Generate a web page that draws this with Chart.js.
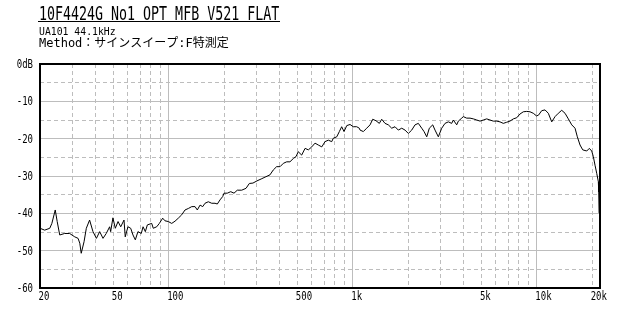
<!DOCTYPE html>
<html>
<head>
<meta charset="utf-8">
<title>10F4424G No1 OPT MFB V521 FLAT</title>
<script src="https://cdn.jsdelivr.net/npm/chart.js@4.4.1/dist/chart.umd.min.js"></script>
<style>
  html, body { margin: 0; padding: 0; background: #fff; }
  #wrap { width: 640px; height: 320px; position: relative; }
</style>
</head>
<body>
<div id="wrap"><canvas id="fr" width="640" height="320"></canvas></div>
<script>
/* ========================================
   F-characteristic plot (sine sweep)
   ======================================== */

// --- Header text ---
const titleText = '10F4424G No1 OPT MFB V521 FLAT';
const deviceText = 'UA101 44.1kHz';
const methodText = 'Method：サインスイープ:F特測定';

// --- Axes ---
const freqMin = 20;
const freqMax = 22050;
const dbMin = -60;
const dbMax = 0;
const freqGrid = [20, 30, 40, 50, 60, 70, 80, 90, 100, 200, 300, 400, 500, 600, 700, 800, 900,
  1000, 2000, 3000, 4000, 5000, 6000, 7000, 8000, 9000, 10000, 20000];
const freqMajor = [100, 1000, 10000];
const freqLabelValues = [20, 50, 100, 500, 1000, 5000, 10000, 20000];
const freqLabelText = ['20', '50', '100', '500', '1k', '5k', '10k', '20k'];
const dbGrid = [-60, -55, -50, -45, -40, -35, -30, -25, -20, -15, -10, -5, 0];
const dbLabelValues = [0, -10, -20, -30, -40, -50, -60];
const dbLabelText = ['0dB', '-10', '-20', '-30', '-40', '-50', '-60'];

const freqHz = [
  20, 21.2, 22.6, 23.2, 24.2, 24.8, 25.6, 27.2, 29.0, 30.9,
  32.2, 32.9, 33.5, 34.7, 35.7, 37.2, 38.8, 40.5, 42.2, 44.0,
  45.8, 47.8, 48.4, 49.8, 51.3, 53.1, 54.9, 57.2, 58.1, 60.1,
  62.2, 64.0, 65.9, 68.1, 71.0, 72.6, 74.7, 76.6, 80.9, 82.5,
  86.1, 89.0, 92.8, 95.5, 99.5, 103.9, 108.3, 112.8, 117.7, 122.7,
  127.9, 133.5, 139.1, 143.1, 148.1, 153.1, 157.6, 164.2, 171.4, 178.6,
  183.8, 190.1, 196.6, 199.9, 208.2, 217.4, 226.5, 236, 249.4, 263.2,
  274.4, 287, 302, 318, 334, 355, 370, 386, 403, 420,
  438, 456, 476, 492, 506, 528, 551, 574, 599, 624,
  650, 679, 707, 737, 769, 784, 819, 846, 871, 897,
  928, 967, 1007, 1051, 1086, 1096, 1142, 1191, 1242, 1284,
  1338, 1395, 1437, 1498, 1561, 1629, 1697, 1769, 1846, 1924,
  2005, 2092, 2180, 2272, 2371, 2441, 2524, 2607, 2720, 2800,
  2918, 3044, 3173, 3307, 3450, 3520, 3672, 3748, 3910, 3988,
  4162, 4338, 4522, 4717, 4916, 5124, 5345, 5570, 5806, 6057,
  6312, 6578, 6863, 7152, 7454, 7777, 8105, 8447, 8815, 9186,
  9572, 9964, 10218, 10636, 11086, 11552, 12054, 12562, 13092, 13662,
  14238, 14837, 15484, 16136, 16607, 17178, 17768, 18678, 19296, 19880,
  20283, 20719, 21167, 21595, 21700, 21800, 22050
];
const levelDb = [
  -44.0, -44.5, -44.0, -42.7, -39.1, -42.2, -45.8, -45.4, -45.4, -46.3,
  -46.7, -48.0, -50.7, -47.6, -44.0, -41.8, -44.9, -46.7, -44.9, -46.7,
  -45.4, -43.6, -44.9, -41.2, -44.0, -42.2, -43.6, -41.8, -46.3, -43.6,
  -44.0, -45.8, -47.1, -44.9, -45.4, -43.6, -44.9, -43.1, -42.7, -44.0,
  -43.6, -42.7, -41.3, -42.0, -42.2, -42.7, -42.1, -41.3, -40.4, -39.1,
  -38.7, -38.2, -38.2, -39.1, -37.8, -38.2, -37.3, -36.9, -37.3, -37.3,
  -37.5, -36.4, -35.5, -34.6, -34.6, -34.2, -34.6, -33.8, -33.8, -33.3,
  -32.0, -31.9, -31.3, -30.8, -30.3, -29.7, -28.4, -27.5, -27.5, -26.6,
  -26.2, -26.2, -25.3, -24.8, -23.5, -24.4, -22.6, -23.0, -22.2, -21.2,
  -21.7, -22.2, -20.8, -20.4, -20.8, -19.9, -19.5, -18.1, -16.8, -18.1,
  -16.5, -16.2, -16.8, -16.8, -17.2, -17.7, -18.1, -17.2, -16.3, -14.8,
  -15.2, -15.9, -14.8, -15.9, -16.3, -17.2, -16.8, -17.7, -17.2, -17.7,
  -18.6, -17.7, -16.3, -15.9, -17.2, -18.1, -19.5, -17.2, -16.3, -17.7,
  -19.5, -17.2, -15.9, -15.5, -15.9, -15.0, -16.3, -15.3, -14.5, -14.1,
  -14.5, -14.5, -14.7, -15.0, -15.3, -15.0, -14.7, -15.0, -15.3, -15.3,
  -15.5, -15.9, -15.6, -15.3, -14.7, -14.4, -13.4, -12.8, -12.7, -12.8,
  -13.2, -13.9, -13.7, -12.5, -12.3, -13.2, -15.5, -14.1, -13.2, -12.4,
  -13.2, -14.7, -16.3, -17.2, -19.5, -21.7, -23.0, -23.3, -22.6, -23.3,
  -24.8, -27.1, -29.3, -31.5, -34.3, -39.9, -39.9
];

// --- Helpers ---
const GRID = '#bdbdbd';
const MONO = "'DejaVu Sans Mono', 'Noto Sans CJK JP', monospace";

function narrowText(ctx, text, x, y, font, sx, align) {
  ctx.save();
  ctx.font = font;
  ctx.textAlign = align || 'left';
  ctx.textBaseline = 'alphabetic';
  ctx.translate(x, y);
  ctx.scale(sx, 1);
  ctx.fillText(text, 0, 0);
  ctx.restore();
}

// frame, tick labels and header drawn on top of the chart
const plotDecor = {
  id: 'plotDecor',
  afterDraw(chart) {
    const ctx = chart.ctx;
    const area = chart.chartArea;
    const xs = chart.scales.x;
    const ys = chart.scales.y;

    ctx.save();
    ctx.fillStyle = '#000';

    // plot frame
    ctx.strokeStyle = '#000';
    ctx.lineWidth = 2;
    ctx.strokeRect(area.left, area.top, area.right - area.left, area.bottom - area.top);

    // x tick labels (start at the tick)
    freqLabelValues.forEach((v, i) => {
      const x = xs.getPixelForValue(v);
      narrowText(ctx, freqLabelText[i], x - 1.5, area.bottom + 12, '12px ' + MONO, 0.75, 'left');
    });

    // y tick labels
    dbLabelValues.forEach((v, i) => {
      const y = ys.getPixelForValue(v);
      narrowText(ctx, dbLabelText[i], area.left - 7, y + 4, '12px ' + MONO, 0.75, 'right');
    });

    // header
    narrowText(ctx, titleText, 39, 20, '19px ' + MONO, 0.70, 'left');
    ctx.fillRect(38, 21, 242, 1);
    narrowText(ctx, deviceText, 39, 35, '11px ' + MONO, 0.89, 'left');
    narrowText(ctx, methodText, 39, 47, '12px ' + MONO, 1, 'left');

    ctx.restore();
  }
};

const points = freqHz.map((f, i) => ({ x: f, y: levelDb[i] }));

new Chart(document.getElementById('fr').getContext('2d'), {
  type: 'line',
  data: {
    datasets: [{
      data: points,
      borderColor: '#000',
      borderWidth: 1,
      pointRadius: 0,
      tension: 0,
      fill: false
    }]
  },
  options: {
    responsive: false,
    animation: false,
    devicePixelRatio: 1,
    layout: { padding: { left: 40, top: 64, right: 40, bottom: 32 } },
    plugins: {
      legend: { display: false },
      tooltip: { enabled: false }
    },
    scales: {
      x: {
        type: 'logarithmic',
        min: freqMin,
        max: freqMax,
        afterBuildTicks: s => { s.ticks = freqGrid.map(v => ({ value: v })); },
        ticks: { display: false },
        grid: { color: GRID, lineWidth: 1, drawTicks: false },
        border: {
          display: false,
          dash: c => (c.tick && freqMajor.includes(c.tick.value)) ? [] : [4, 3]
        }
      },
      y: {
        min: dbMin,
        max: dbMax,
        afterBuildTicks: s => { s.ticks = dbGrid.map(v => ({ value: v })); },
        ticks: { display: false },
        grid: { color: GRID, lineWidth: 1, drawTicks: false },
        border: {
          display: false,
          dash: c => (c.tick && c.tick.value % 10 === 0) ? [] : [4, 3]
        }
      }
    }
  },
  plugins: [plotDecor]
});
</script>
</body>
</html>
